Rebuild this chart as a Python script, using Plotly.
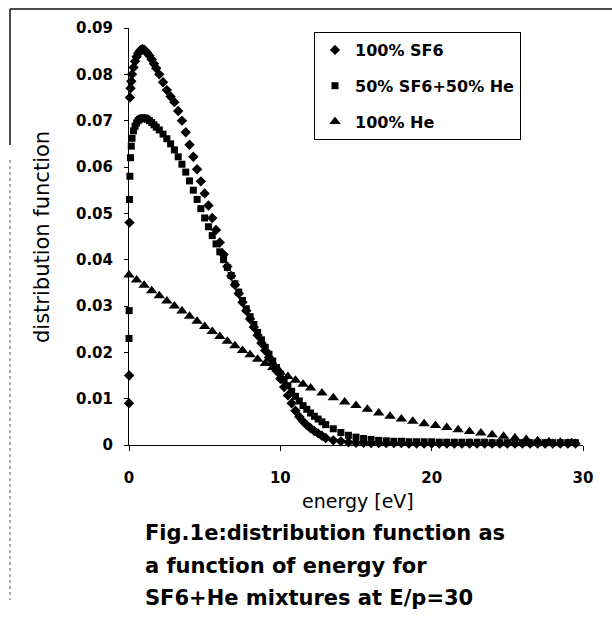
import plotly.graph_objects as go

# Electron energy grid [eV] for the SF6 and 50/50 mixture curves
energy_sf6 = [
    0.0, 0.01, 0.03, 0.06, 0.1, 0.15, 0.2, 0.3, 0.4, 0.5, 0.6, 0.7, 0.8, 0.9,
    1.0, 1.1, 1.2, 1.35, 1.5, 1.65, 1.8, 2.0, 2.25, 2.5, 2.75, 3.0, 3.25, 3.5,
    3.75, 4.0, 4.25, 4.5, 4.75, 5.0, 5.25, 5.5, 5.75, 6.0, 6.25, 6.5, 6.75,
    7.0, 7.25, 7.5, 7.75, 8.0, 8.25, 8.5, 8.75, 9.0, 9.25, 9.5, 9.75, 10.0,
    10.25, 10.5, 10.75, 11.0, 11.25, 11.5, 11.75, 12.0, 12.25, 12.5, 12.75,
    13.0, 13.5, 14.0, 14.5, 15.0, 15.5, 16.0, 16.5, 17.0, 17.5, 18.0, 18.5,
    19.0, 19.5, 20.0, 20.5, 21.0, 21.5, 22.0, 22.5, 23.0, 23.5, 24.0, 24.5,
    25.0, 25.5, 26.0, 26.5, 27.0, 27.5, 28.0, 28.5, 29.0, 29.5,
]

# 100% SF6
f_sf6 = [
    0.0090, 0.0150, 0.0480, 0.0750, 0.0770, 0.0785, 0.0800, 0.0815, 0.0828,
    0.0838, 0.0845, 0.0850, 0.0853, 0.0854, 0.0853, 0.0850, 0.0846, 0.0840,
    0.0832, 0.0823, 0.0813, 0.0800, 0.0783, 0.0766, 0.0752, 0.0740, 0.0721,
    0.0700, 0.0675, 0.0648, 0.0622, 0.0595, 0.0569, 0.0543, 0.0517, 0.0490,
    0.0464, 0.0437, 0.0411, 0.0385, 0.0365, 0.0346, 0.0327, 0.0308, 0.0290,
    0.0272, 0.0254, 0.0237, 0.0220, 0.0204, 0.0189, 0.0174, 0.0160, 0.0143,
    0.0125, 0.0107, 0.0090, 0.0074, 0.0061, 0.0051, 0.0043, 0.0036, 0.0030,
    0.0025, 0.0020, 0.0015, 0.0010, 0.0008, 0.0006, 0.0005, 0.0005, 0.0004,
    0.0004, 0.0004, 0.0004, 0.0004, 0.0003, 0.0003, 0.0003, 0.0003, 0.0003,
    0.0003, 0.0003, 0.0003, 0.0003, 0.0003, 0.0003, 0.0003, 0.0003, 0.0003,
    0.0003, 0.0003, 0.0003, 0.0003, 0.0003, 0.0003, 0.0003, 0.0003, 0.0003,
]

# 50% SF6 + 50% He
f_mix = [
    0.0230, 0.0290, 0.0530, 0.0580, 0.0620, 0.0645, 0.0662, 0.0678, 0.0688,
    0.0695, 0.0700, 0.0703, 0.0705, 0.0706, 0.0706, 0.0705, 0.0703, 0.0700,
    0.0696, 0.0691, 0.0686, 0.0680, 0.0671, 0.0661, 0.0650, 0.0637, 0.0622,
    0.0606, 0.0589, 0.0570, 0.0550, 0.0530, 0.0510, 0.0490, 0.0471, 0.0452,
    0.0434, 0.0417, 0.0400, 0.0383, 0.0366, 0.0348, 0.0330, 0.0312, 0.0294,
    0.0277, 0.0260, 0.0243, 0.0227, 0.0211, 0.0196, 0.0181, 0.0167, 0.0153,
    0.0140, 0.0128, 0.0116, 0.0105, 0.0095, 0.0085, 0.0077, 0.0069, 0.0062,
    0.0056, 0.0050, 0.0044, 0.0035, 0.0027, 0.0021, 0.0017, 0.0014, 0.0012,
    0.0010, 0.0009, 0.0008, 0.0008, 0.0007, 0.0007, 0.0007, 0.0007, 0.0006,
    0.0006, 0.0006, 0.0006, 0.0006, 0.0006, 0.0006, 0.0005, 0.0005, 0.0005,
    0.0005, 0.0005, 0.0005, 0.0005, 0.0005, 0.0005, 0.0005, 0.0005, 0.0005,
]

# 100% He, on its own energy grid [eV]
energy_he = [
    0.0, 0.5, 1.0, 1.5, 2.0, 2.5, 3.0, 3.5, 4.0, 4.5, 5.0, 5.5, 6.0, 6.5,
    7.0, 7.5, 8.0, 8.5, 9.0, 9.5, 10.0, 10.5, 11.0, 11.5, 12.0, 12.75, 13.5,
    14.25, 15.0, 15.75, 16.5, 17.25, 18.0, 18.75, 19.5, 20.25, 21.0, 21.75,
    22.5, 23.25, 24.0, 24.75, 25.5, 26.25, 27.0, 27.75, 28.5, 29.25,
]
f_he = [
    0.0367, 0.0356, 0.0345, 0.0333, 0.0322, 0.0311, 0.0300, 0.0289, 0.0278,
    0.0267, 0.0256, 0.0245, 0.0234, 0.0224, 0.0214, 0.0204, 0.0195, 0.0185,
    0.0176, 0.0167, 0.0157, 0.0148, 0.0140, 0.0131, 0.0123, 0.0112, 0.0102,
    0.0093, 0.0085, 0.0077, 0.0069, 0.0062, 0.0056, 0.0051, 0.0046, 0.0042,
    0.0038, 0.0033, 0.0029, 0.0026, 0.0022, 0.0019, 0.0015, 0.0012, 0.0009,
    0.0007, 0.0006, 0.0005,
]

series_names = ["100% SF6", "50% SF6+50% He", "100% He"]

x_ticks = [0, 10, 20, 30]
x_tick_labels = ["0", "10", "20", "30"]
y_ticks = [0, 0.01, 0.02, 0.03, 0.04, 0.05, 0.06, 0.07, 0.08, 0.09]
y_tick_labels = ["0", "0.01", "0.02", "0.03", "0.04", "0.05", "0.06",
                 "0.07", "0.08", "0.09"]

caption_lines = [
    "Fig.1e:distribution function as",
    "a function of energy for",
    "SF6+He mixtures at E/p=30",
]

INK = "#000000"
FONT = "DejaVu Sans"

fig = go.Figure()
fig.add_trace(go.Scatter(
    x=energy_sf6, y=f_sf6, mode="markers", name=series_names[0],
    legendgroup="a", cliponaxis=False,
    marker=dict(symbol="diamond", size=8, color=INK, line=dict(width=0)),
))
fig.add_trace(go.Scatter(
    x=energy_sf6, y=f_mix, mode="markers", name=series_names[1],
    legendgroup="b", cliponaxis=False,
    marker=dict(symbol="square", size=7, color=INK, line=dict(width=0)),
))
fig.add_trace(go.Scatter(
    x=energy_he, y=f_he, mode="markers", name=series_names[2],
    legendgroup="c", cliponaxis=False,
    marker=dict(symbol="triangle-up", size=10, color=INK, line=dict(width=0)),
))

# plot area: x 129..583 px, y 28..445 px
L, R, T, B = 129, 29, 28, 176
W, H = 612, 621
PW, PH = W - L - R, H - T - B


def px(xp):
    return (xp - L) / PW


def py(yp):
    return (H - B - yp) / PH


annotations = [
    dict(text="energy [eV]", x=px(358), y=py(501), xref="paper", yref="paper",
         xanchor="center", yanchor="middle", showarrow=False,
         font=dict(family=FONT, size=19, color=INK)),
    dict(text="distribution function", x=px(42), y=py(237), xref="paper",
         yref="paper", xanchor="center", yanchor="middle", textangle=-90,
         showarrow=False, font=dict(family=FONT, size=21, color=INK)),
]
for line, yp in zip(caption_lines, [533, 566, 598]):
    annotations.append(dict(
        text=line, x=px(143), y=py(yp), xref="paper", yref="paper",
        xanchor="left", yanchor="middle", showarrow=False,
        font=dict(family=FONT, size=21, color=INK, weight="bold")))

shapes = [
    dict(type="line", xref="paper", yref="paper", x0=px(10), x1=px(612),
         y0=py(9), y1=py(9), line=dict(color="#111", width=1.5)),
    dict(type="line", xref="paper", yref="paper", x0=px(10), x1=px(10),
         y0=py(9), y1=py(145), line=dict(color="#111", width=1.5)),
    dict(type="line", xref="paper", yref="paper", x0=px(10), x1=px(10),
         y0=py(160), y1=py(600), line=dict(color="#555", width=1, dash="dot")),
]

fig.update_layout(
    width=W, height=H,
    margin=dict(l=L, r=R, t=T, b=B, pad=0),
    paper_bgcolor="white", plot_bgcolor="white",
    showlegend=True,
    legend=dict(
        x=px(314), y=py(32), xanchor="left", yanchor="top",
        bgcolor="white", bordercolor=INK, borderwidth=1,
        font=dict(family=FONT, size=16, color=INK, weight="bold"),
        tracegroupgap=12, itemwidth=30,
    ),
    annotations=annotations,
    shapes=shapes,
)
fig.update_xaxes(
    range=[0, 30], tickvals=x_ticks, ticktext=x_tick_labels,
    showline=True, linecolor=INK, linewidth=1, showgrid=False, zeroline=False,
    ticks="outside", ticklen=5, tickcolor=INK, ticklabelstandoff=14,
    tickfont=dict(family=FONT, size=15, color=INK, weight="bold"),
)
fig.update_yaxes(
    range=[0, 0.09], tickvals=y_ticks, ticktext=y_tick_labels,
    showline=True, linecolor=INK, linewidth=1, showgrid=False, zeroline=False,
    ticks="outside", ticklen=4, tickcolor=INK, ticklabelstandoff=8,
    tickfont=dict(family=FONT, size=15, color=INK, weight="bold"),
)

fig.write_html("out.html")
